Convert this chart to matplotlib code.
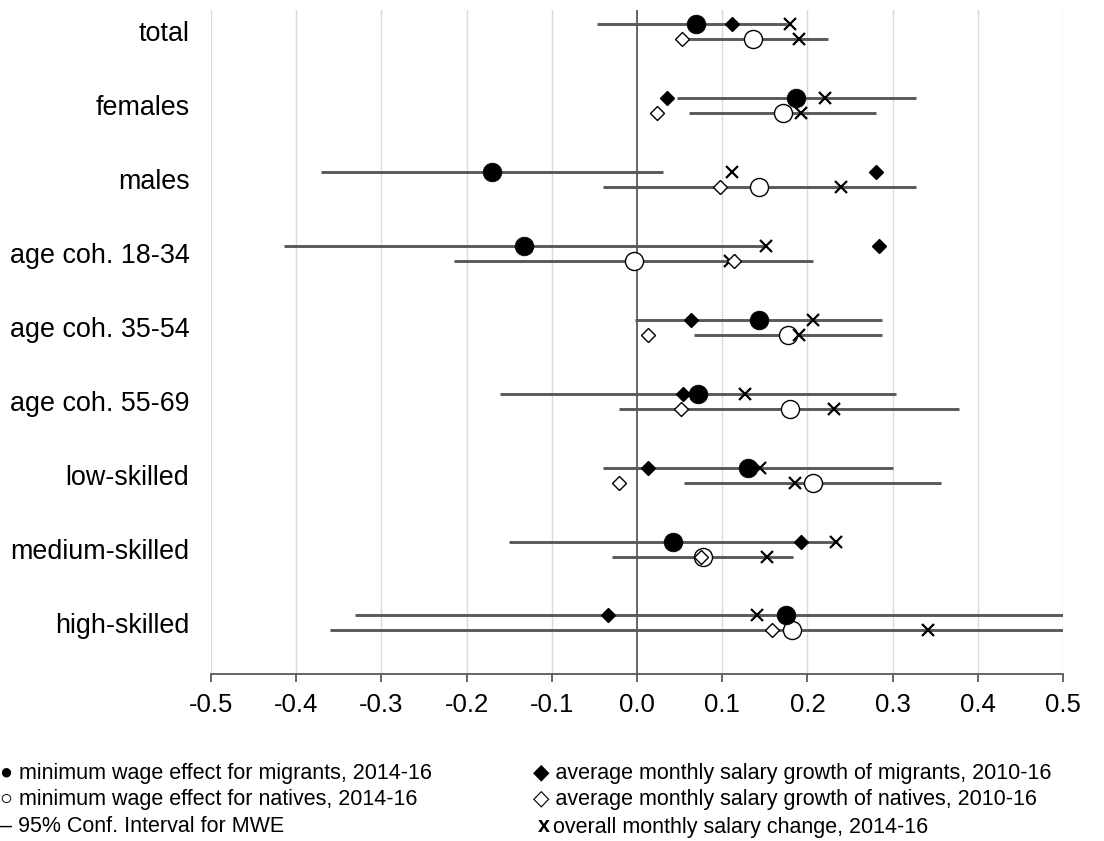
import numpy as np
import matplotlib.pyplot as plt

plt.rcParams['font.family'] = ['Liberation Sans', 'DejaVu Sans']
plt.rcParams['axes.unicode_minus'] = False

# Groups, top to bottom
categories = ["total", "females", "males", "age coh. 18-34", "age coh. 35-54",
              "age coh. 55-69", "low-skilled", "medium-skilled", "high-skilled"]

# Minimum wage effect (MWE) and 95% CI, migrants
mwe_migrants = [0.069, 0.187, -0.170, -0.133, 0.143, 0.072, 0.130, 0.042, 0.175]
ci_mig_low = [-0.047, 0.047, -0.371, -0.414, -0.002, -0.161, -0.040, -0.150, -0.331]
ci_mig_high = [0.176, 0.328, 0.031, 0.149, 0.288, 0.304, 0.300, 0.236, 0.600]

# Minimum wage effect and 95% CI, natives
mwe_natives = [0.136, 0.171, 0.143, -0.004, 0.177, 0.179, 0.206, 0.077, 0.182]
ci_nat_low = [0.057, 0.061, -0.040, -0.215, 0.067, -0.021, 0.055, -0.029, -0.360]
ci_nat_high = [0.224, 0.280, 0.328, 0.207, 0.287, 0.378, 0.357, 0.183, 0.600]

# Average monthly salary growth 2010-16
growth_migrants = [0.111, 0.035, 0.280, 0.284, 0.063, 0.054, 0.013, 0.192, -0.034]
growth_natives = [0.053, 0.023, 0.097, 0.114, 0.013, 0.052, -0.021, 0.075, 0.159]

# Overall monthly salary change 2014-16
change_migrants = [0.179, 0.221, 0.111, 0.151, 0.206, 0.127, 0.144, 0.234, 0.141]
change_natives = [0.190, 0.193, 0.240, 0.109, 0.190, 0.231, 0.185, 0.152, 0.342]

xticks = [-0.5, -0.4, -0.3, -0.2, -0.1, 0.0, 0.1, 0.2, 0.3, 0.4, 0.5]

gray = '#595959'
pos = np.arange(len(categories))
y_mig = pos - 0.1015
y_nat = pos + 0.1015

fig = plt.figure(figsize=(11.04, 8.41), dpi=100)
ax = fig.add_axes([211 / 1104, 1 - 674 / 841, 852 / 1104, 664 / 841])

ax.set_xlim(-0.5, 0.5)
ax.set_ylim(8.69, -0.29)
for v in xticks:
    if v != 0:
        ax.axvline(v, color='#d9d9d9', lw=1, zorder=0)
ax.axvline(0, color=gray, lw=1.3, zorder=1)

# confidence intervals
ax.hlines(y_mig, ci_mig_low, ci_mig_high, color=gray, lw=2.1, zorder=2)
ax.hlines(y_nat, ci_nat_low, ci_nat_high, color=gray, lw=2.1, zorder=2)

ax.plot(mwe_natives, y_nat, 'o', ms=13, mfc='white', mec='black', mew=1, zorder=3)
ax.plot(change_migrants, y_mig, 'x', ms=8, mec='black', mew=1.6, zorder=4)
ax.plot(change_natives, y_nat, 'x', ms=8, mec='black', mew=1.6, zorder=4)
ax.plot(growth_natives, y_nat, 'D', ms=6.8, mfc='white', mec='black', mew=1, zorder=5)
ax.plot(growth_migrants, y_mig, 'D', ms=6.8, mfc='black', mec='black', mew=1, zorder=5)
ax.plot(mwe_migrants, y_mig, 'o', ms=13.5, mfc='black', mec='black', mew=0.5, zorder=6)

for s in ['top', 'left', 'right']:
    ax.spines[s].set_visible(False)
ax.spines['bottom'].set_color(gray)
ax.spines['bottom'].set_linewidth(1.3)

ax.set_xticks(xticks)
ax.set_xticklabels([f"{v:.1f}" for v in xticks], fontsize=18.5)
ax.tick_params(axis='x', direction='out', length=6, width=1.3, color=gray, pad=8)
ax.set_yticks(pos)
ax.set_yticklabels(categories, fontsize=19.4)
ax.tick_params(axis='y', length=0, pad=15.5)

# legend as plain text lines
fs = 15.5
fig.text(0 / 1104, 1 - 773 / 841, "\u25cf minimum wage effect for migrants, 2014-16", fontsize=fs, va='center')
fig.text(0 / 1104, 1 - 800 / 841, "\u25cb minimum wage effect for natives, 2014-16", fontsize=fs, va='center')
fig.text(0 / 1104, 1 - 827 / 841, "\u2013 95% Conf. Interval for MWE", fontsize=fs, va='center')
fig.text(533 / 1104, 1 - 773 / 841, "\u25c6 average monthly salary growth of migrants, 2010-16", fontsize=fs, va='center')
fig.text(533 / 1104, 1 - 800 / 841, "\u25c7 average monthly salary growth of natives, 2010-16", fontsize=fs, va='center')
fig.text(538 / 1104, 1 - 827 / 841, "x", fontsize=fs, fontweight='bold', va='center')
fig.text(553 / 1104, 1 - 827 / 841, "overall monthly salary change, 2014-16", fontsize=fs, va='center')

fig.savefig("out.png", dpi=100)
